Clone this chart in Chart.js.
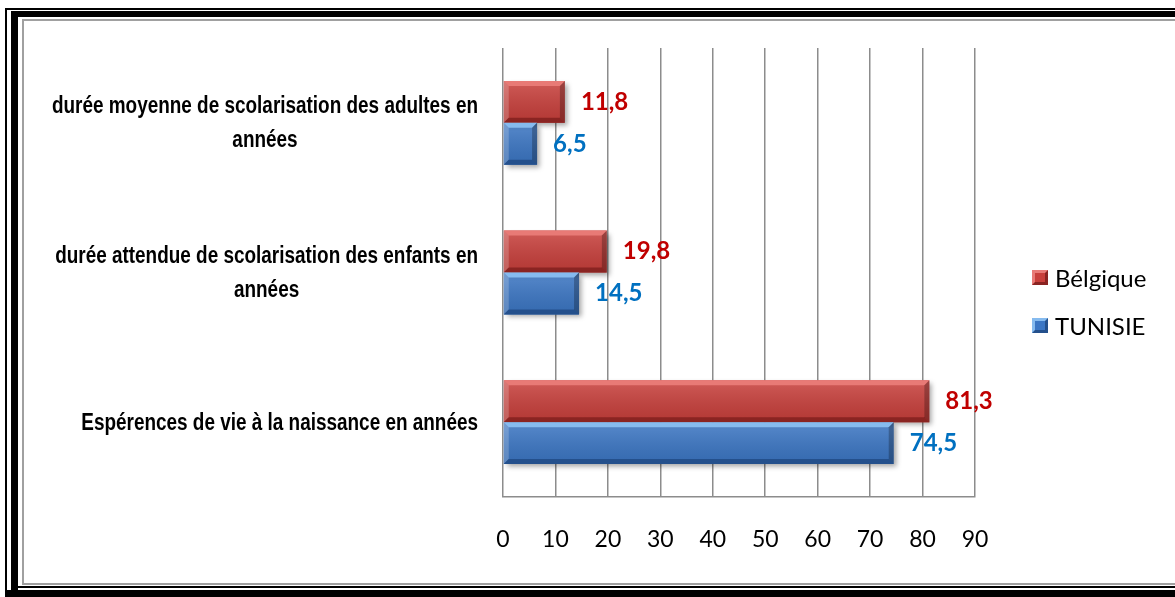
<!DOCTYPE html>
<html>
<head>
<meta charset="utf-8">
<script src="https://cdn.jsdelivr.net/npm/chart.js@4.4.1/dist/chart.umd.min.js"></script>
<style>
    html, body { margin: 0; padding: 0; background: #fff; }
    #page { position: relative; width: 1175px; height: 597px; overflow: hidden; background: #fff; }
    .ln { position: absolute; background: #000; }
    #inner { position: absolute; left: 22px; top: 19px; width: 1160px; height: 562px; border: 2px solid #a0a0a0; }
    #chart-bars { position: absolute; left: 0; top: 0; }
    #legend { position: absolute; left: 1032px; top: 261px; font-family: Lato, "Open Sans", sans-serif; font-size: 24px; color: #000; }
    #legend .it { display: flex; align-items: center; height: 32px; margin-bottom: 16px; }
    #legend .mk { width: 10px; height: 9px; border: 3px solid; margin-right: 7px; }
</style>
</head>
<body>
<div id="page">
    <!-- cadre double -->
    <div class="ln" style="left:5px;top:8px;width:1170px;height:2px"></div>
    <div class="ln" style="left:5px;top:8px;width:2px;height:589px"></div>
    <div class="ln" style="left:11px;top:11px;width:1164px;height:6px"></div>
    <div class="ln" style="left:11px;top:11px;width:7px;height:586px"></div>
    <div class="ln" style="left:18px;top:586px;width:1157px;height:2px"></div>
    <div class="ln" style="left:5px;top:590px;width:1170px;height:7px"></div>
    <div id="inner"></div>
    <canvas id="chart-bars" width="1175" height="597"></canvas>
    <div id="legend"></div>
</div>
<script>
// catégories (lignes du libellé)
var categories = [
    ["durée moyenne de scolarisation des adultes en", "années"],
    ["durée attendue de scolarisation des enfants en", "années"],
    ["Espérences de vie à la naissance en années"]
];
var seriesNames = ["Bélgique", "TUNISIE"];
var belgique = [11.8, 19.8, 81.3];
var tunisie = [6.5, 14.5, 74.5];
var xTicks = [0, 10, 20, 30, 40, 50, 60, 70, 80, 90];

var barColors = ["#c83f3b", "#3b76c4"];
var bevelColors = [["#e87a76", "#8a2422"], ["#86bbef", "#24508c"]]; // clair / foncé
var labelColors = ["#c00000", "#0070c0"];

// légende html
var legendHtml = "";
seriesNames.forEach(function (name, i) {
    legendHtml += '<div class="it"><span class="mk" style="background:' + barColors[i] +
        ';border-color:' + bevelColors[i][0] + ' ' + bevelColors[i][1] + ' ' + bevelColors[i][1] + ' ' + bevelColors[i][0] +
        '"></span>' + name + '</div>';
});
document.getElementById("legend").innerHTML = legendHtml;

// ombre des barres
var shadowPlugin = {
    id: "shadow",
    beforeDatasetDraw: function (chart) {
        var c = chart.ctx;
        c.save();
        c.shadowColor = "rgba(0,0,0,0.35)";
        c.shadowBlur = 5;
        c.shadowOffsetX = 3;
        c.shadowOffsetY = 3;
    },
    afterDatasetDraw: function (chart) {
        chart.ctx.restore();
    }
};

// biseau + étiquettes de valeur
var bevelPlugin = {
    id: "bevel",
    afterDatasetsDraw: function (chart) {
        var c = chart.ctx;
        chart.data.datasets.forEach(function (ds, di) {
            var meta = chart.getDatasetMeta(di);
            meta.data.forEach(function (bar, i) {
                var p = bar.getProps(["x", "y", "base", "height"], true);
                var l = p.base, r = p.x, t = p.y - p.height / 2, bo = p.y + p.height / 2, b = 5;
                c.save();
                var g = c.createLinearGradient(0, t, 0, bo);
                g.addColorStop(0, "rgba(255,255,255,0.15)");
                g.addColorStop(1, "rgba(0,0,0,0.10)");
                c.fillStyle = g;
                c.fillRect(l, t, r - l, bo - t);
                function poly(pts, col) {
                    c.beginPath();
                    c.moveTo(pts[0][0], pts[0][1]);
                    for (var k = 1; k < pts.length; k++) c.lineTo(pts[k][0], pts[k][1]);
                    c.closePath();
                    c.fillStyle = col;
                    c.fill();
                }
                poly([[l, t], [r, t], [r - b, t + b], [l + b, t + b]], bevelColors[di][0]);
                poly([[l, t], [l + b, t + b], [l + b, bo - b], [l, bo]], "rgba(255,255,255,0.2)");
                poly([[l, bo], [r, bo], [r - b, bo - b], [l + b, bo - b]], bevelColors[di][1]);
                poly([[r, t], [r, bo], [r - b, bo - b], [r - b, t + b]], "rgba(0,0,0,0.25)");
                c.restore();

                c.save();
                c.font = "bold 24px Lato, 'Open Sans', sans-serif";
                c.fillStyle = labelColors[di];
                c.textAlign = "left";
                c.textBaseline = "middle";
                c.fillText(ds.data[i].toFixed(1).replace(".", ","), r + 16, p.y);
                c.restore();
            });
        });
    }
};

// libellés des catégories (police étroite : Arial gras comprimé)
var catLabelPlugin = {
    id: "catLabels",
    afterDraw: function (chart) {
        var c = chart.ctx;
        var yScale = chart.scales.y;
        var sx = 0.823;
        c.save();
        c.font = "bold 23px 'Liberation Sans', Arial, sans-serif";
        c.fillStyle = "#000";
        c.textAlign = "center";
        c.textBaseline = "middle";
        categories.forEach(function (lines, i) {
            var yc = yScale.getPixelForValue(i) + 1;
            var w = 0;
            lines.forEach(function (s) { w = Math.max(w, c.measureText(s).width * sx); });
            var cx = 478 - w / 2;
            var lh = 34;
            lines.forEach(function (s, k) {
                c.save();
                c.translate(cx, yc + (k - (lines.length - 1) / 2) * lh);
                c.scale(sx, 1);
                c.fillText(s, 0, 0);
                c.restore();
            });
        });
        c.restore();
    }
};

var ctx = document.getElementById("chart-bars").getContext("2d");
new Chart(ctx, {
    type: "bar",
    data: {
        labels: categories,
        datasets: [{
            label: seriesNames[0],
            data: belgique,
            backgroundColor: barColors[0],
            borderWidth: 0,
            categoryPercentage: 0.56,
            barPercentage: 1
        }, {
            label: seriesNames[1],
            data: tunisie,
            backgroundColor: barColors[1],
            borderWidth: 0,
            categoryPercentage: 0.56,
            barPercentage: 1
        }]
    },
    plugins: [shadowPlugin, bevelPlugin, catLabelPlugin],
    options: {
        indexAxis: "y",
        responsive: false,
        animation: false,
        layout: { padding: { left: 503, right: 200, top: 48, bottom: 0 } },
        plugins: {
            legend: { display: false },
            tooltip: { enabled: false }
        },
        scales: {
            x: {
                min: xTicks[0],
                max: xTicks[xTicks.length - 1],
                afterBuildTicks: function (axis) {
                    axis.ticks = xTicks.map(function (v) { return { value: v }; });
                },
                afterFit: function (axis) { axis.height = 100; },
                grid: { color: "#8c8c8c", lineWidth: 1.5, drawTicks: false },
                border: { color: "#8c8c8c", width: 1.5 },
                ticks: {
                    color: "#000",
                    padding: 29,
                    font: { family: "Lato", size: 23 }
                }
            },
            y: {
                afterFit: function (axis) { axis.width = 0; },
                grid: { display: false },
                border: { display: false },
                ticks: { display: false }
            }
        }
    }
});
</script>
</body>
</html>
